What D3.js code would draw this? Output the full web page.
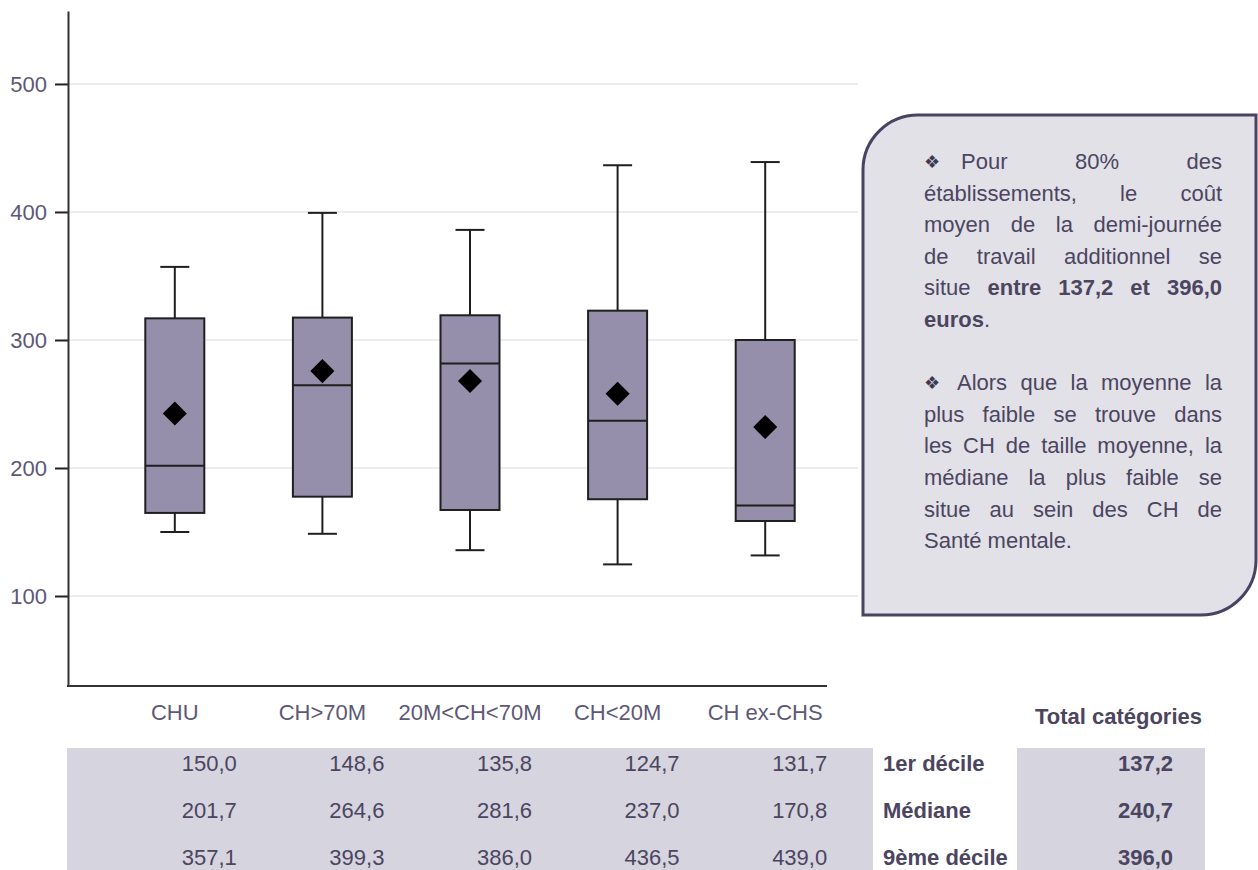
<!DOCTYPE html>
<html>
<head>
<meta charset="utf-8">
<script src="https://cdn.jsdelivr.net/npm/d3@7"></script>
<style>
  html, body { margin: 0; padding: 0; background: #fff; }
  svg { display: block; font-family: "Liberation Sans", Arial, sans-serif; }
</style>
</head>
<body>
<svg id="chart" width="1258" height="870"></svg>
<script>
// ---- Data ----
const categories = ["CHU", "CH>70M", "20M<CH<70M", "CH<20M", "CH ex-CHS"];
const decile1 = [150.0, 148.6, 135.8, 124.7, 131.7];
const medians = [201.7, 264.6, 281.6, 237.0, 170.8];
const decile9 = [357.1, 399.3, 386.0, 436.5, 439.0];
const quart1 = [164.9, 177.6, 167.2, 175.6, 158.6];
const quart3 = [316.9, 317.5, 319.3, 322.9, 300.0];
const means = [242.6, 275.7, 267.9, 258.0, 232.0];
const yTicks = [100, 200, 300, 400, 500];
const rowLabels = ["1er décile", "Médiane", "9ème décile"];
const totals = [137.2, 240.7, 396.0];
const totalHeader = "Total catégories";

// Text box content: each line is a list of words; each word is a list of runs (b = bold)
const para1 = [
  [[{t: "Pour"}], [{t: "80%"}], [{t: "des"}]],
  [[{t: "établissements,"}], [{t: "le"}], [{t: "coût"}]],
  [[{t: "moyen"}], [{t: "de"}], [{t: "la"}], [{t: "demi-journée"}]],
  [[{t: "de"}], [{t: "travail"}], [{t: "additionnel"}], [{t: "se"}]],
  [[{t: "situe"}], [{t: "entre", b: 1}], [{t: "137,2", b: 1}], [{t: "et", b: 1}], [{t: "396,0", b: 1}]],
  [{t: "euros", b: 1}, {t: "."}]
];
const para2 = [
  [[{t: "Alors"}], [{t: "que"}], [{t: "la"}], [{t: "moyenne"}], [{t: "la"}]],
  [[{t: "plus"}], [{t: "faible"}], [{t: "se"}], [{t: "trouve"}], [{t: "dans"}]],
  [[{t: "les"}], [{t: "CH"}], [{t: "de"}], [{t: "taille"}], [{t: "moyenne,"}], [{t: "la"}]],
  [[{t: "médiane"}], [{t: "la"}], [{t: "plus"}], [{t: "faible"}], [{t: "se"}]],
  [[{t: "situe"}], [{t: "au"}], [{t: "sein"}], [{t: "des"}], [{t: "CH"}], [{t: "de"}]],
  [{t: "Santé mentale."}]
];
const bullet = "\u2756";

// ---- Setup ----
const svg = d3.select("#chart");
const fr = d3.formatLocale({decimal: ",", thousands: " ", grouping: [3], currency: ["", " €"]});
const fmt = fr.format(".1f");

const y = d3.scaleLinear().domain([29.7, 557]).range([686, 11]);
const x = d3.scaleBand().domain(categories).range([101, 839]).padding(0);
const cx = c => x(c) + x.bandwidth() / 2;
const axisLeft = 68, axisRight = 827, gridRight = 858;

const textCol = "#4b4560";
const tickCol = "#5d5876";

// Gridlines
svg.append("g").selectAll("line").data(yTicks).join("line")
  .attr("x1", axisLeft).attr("x2", gridRight)
  .attr("y1", d => y(d)).attr("y2", d => y(d))
  .attr("stroke", "#ececee").attr("stroke-width", 2);

// Y axis
const yAxis = d3.axisLeft(y).tickValues(yTicks).tickSizeInner(13).tickSizeOuter(0)
  .tickPadding(8).tickFormat(d3.format("d"));
const gy = svg.append("g").attr("transform", `translate(${axisLeft},0)`).call(yAxis);
gy.select(".domain").attr("stroke", "#333").attr("stroke-width", 2);
gy.selectAll(".tick line").attr("stroke", "#222").attr("stroke-width", 2);
gy.selectAll(".tick text").attr("fill", tickCol).attr("font-size", 22)
  .attr("font-family", "Liberation Sans, Arial, sans-serif");

// X axis line
svg.append("line").attr("x1", axisLeft - 1).attr("x2", axisRight)
  .attr("y1", y.range()[0]).attr("y2", y.range()[0])
  .attr("stroke", "#333").attr("stroke-width", 2);

// Category labels
svg.append("g").selectAll("text").data(categories).join("text")
  .attr("x", d => cx(d)).attr("y", 712).attr("dy", "0.35em")
  .attr("text-anchor", "middle").attr("font-size", 22).attr("fill", tickCol)
  .text(d => d);

// Boxes
const boxW = 59, capW = 29;
const data = categories.map((c, i) => ({c, d1: decile1[i], q1: quart1[i], med: medians[i], q3: quart3[i], d9: decile9[i], mean: means[i]}));
const g = svg.append("g").selectAll("g").data(data).join("g");
const stroke = "#1f1f1f";
g.append("line").attr("x1", d => cx(d.c)).attr("x2", d => cx(d.c))
  .attr("y1", d => y(d.d9)).attr("y2", d => y(d.q3)).attr("stroke", stroke).attr("stroke-width", 2);
g.append("line").attr("x1", d => cx(d.c)).attr("x2", d => cx(d.c))
  .attr("y1", d => y(d.q1)).attr("y2", d => y(d.d1)).attr("stroke", stroke).attr("stroke-width", 2);
g.append("line").attr("x1", d => cx(d.c) - capW / 2).attr("x2", d => cx(d.c) + capW / 2)
  .attr("y1", d => y(d.d9)).attr("y2", d => y(d.d9)).attr("stroke", stroke).attr("stroke-width", 2);
g.append("line").attr("x1", d => cx(d.c) - capW / 2).attr("x2", d => cx(d.c) + capW / 2)
  .attr("y1", d => y(d.d1)).attr("y2", d => y(d.d1)).attr("stroke", stroke).attr("stroke-width", 2);
g.append("rect").attr("x", d => cx(d.c) - boxW / 2).attr("width", boxW)
  .attr("y", d => y(d.q3)).attr("height", d => y(d.q1) - y(d.q3))
  .attr("fill", "#968fab").attr("stroke", stroke).attr("stroke-width", 2);
g.append("line").attr("x1", d => cx(d.c) - boxW / 2).attr("x2", d => cx(d.c) + boxW / 2)
  .attr("y1", d => y(d.med)).attr("y2", d => y(d.med)).attr("stroke", stroke).attr("stroke-width", 2);
const diamond = d3.symbol(d3.symbolSquare, 290);
g.append("path").attr("d", diamond)
  .attr("transform", d => `translate(${cx(d.c)},${y(d.mean)}) rotate(45)`)
  .attr("fill", "#000");

// ---- Table ----
const rowY = d3.scalePoint().domain(rowLabels).range([763, 857]);
svg.append("rect").attr("x", 67).attr("y", 748).attr("width", 806).attr("height", 130).attr("fill", "#d6d4df");
svg.append("rect").attr("x", 1017).attr("y", 748).attr("width", 188).attr("height", 130).attr("fill", "#d6d4df");

const rows = [decile1, medians, decile9];
rows.forEach((vals, r) => {
  svg.append("g").selectAll("text").data(vals).join("text")
    .attr("x", (d, i) => cx(categories[i]) + 62)
    .attr("y", rowY(rowLabels[r])).attr("dy", "0.35em")
    .attr("text-anchor", "end").attr("font-size", 22).attr("fill", textCol)
    .text(d => fmt(d));
});
svg.append("g").selectAll("text").data(rowLabels).join("text")
  .attr("x", 883).attr("y", d => rowY(d)).attr("dy", "0.35em")
  .attr("font-size", 22).attr("font-weight", "bold").attr("fill", textCol)
  .text(d => d);
svg.append("g").selectAll("text").data(totals).join("text")
  .attr("x", 1173).attr("y", (d, i) => rowY(rowLabels[i])).attr("dy", "0.35em")
  .attr("text-anchor", "end").attr("font-size", 22).attr("font-weight", "bold").attr("fill", textCol)
  .text(d => fmt(d));
svg.append("text").attr("x", 1202).attr("y", 716).attr("dy", "0.35em")
  .attr("text-anchor", "end").attr("font-size", 22).attr("font-weight", "bold").attr("fill", textCol)
  .text(totalHeader);

// ---- Text box ----
const bx0 = 863, by0 = 115, bx1 = 1256, by1 = 615, rad = 55;
const boxPath = d3.path();
boxPath.moveTo(bx0, by0 + rad);
boxPath.arcTo(bx0, by0, bx0 + rad, by0, rad);
boxPath.lineTo(bx1, by0);
boxPath.lineTo(bx1, by1 - rad);
boxPath.arcTo(bx1, by1, bx1 - rad, by1, rad);
boxPath.lineTo(bx0, by1);
boxPath.closePath();
svg.append("path").attr("d", boxPath.toString())
  .attr("fill", "#e2e1e8").attr("stroke", "#4a4262").attr("stroke-width", 3);

const tL = 924, tR = 1222, line0 = 161, lineH = 31.6, base = 8;
const tg = svg.append("g").attr("fill", textCol).attr("font-size", 22);

function addRuns(textEl, runs) {
  runs.forEach(r => {
    const ts = textEl.append("tspan").text(r.t);
    if (r.b) ts.attr("font-weight", "bold");
  });
}
function justifyLine(tokens, yy, left) {
  const els = tokens.map(tok => {
    const t = tg.append("text").attr("y", yy + base);
    addRuns(t, tok);
    return t;
  });
  const widths = els.map(e => e.node().getComputedTextLength());
  const total = d3.sum(widths);
  const gap = (tR - left - total) / (tokens.length - 1);
  let xx = left;
  els.forEach((e, i) => { e.attr("x", xx); xx += widths[i] + gap; });
}
function plainLine(runs, yy) {
  const t = tg.append("text").attr("x", tL).attr("y", yy + base);
  addRuns(t, runs);
}
function addBullet(yy) {
  tg.append("text").attr("x", tL).attr("y", yy + 6.5)
    .attr("font-family", "DejaVu Sans, sans-serif").attr("font-size", 18)
    .attr("fill", "#3f3a50")
    .text(bullet);
}
function drawPara(lines, startIdx, firstLeft) {
  lines.forEach((ln, i) => {
    const yy = line0 + (startIdx + i) * lineH;
    const isLast = i === lines.length - 1;
    if (i === 0) addBullet(yy);
    if (isLast) plainLine(ln, yy);
    else justifyLine(ln, yy, i === 0 ? firstLeft : tL);
  });
}
drawPara(para1, 0, tL + 37);
drawPara(para2, 7, tL + 33);
</script>
</body>
</html>
